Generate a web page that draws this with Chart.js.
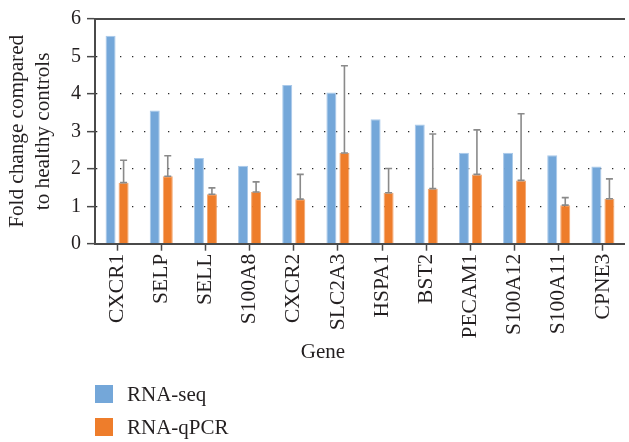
<!DOCTYPE html>
<html>
<head>
<meta charset="utf-8">
<script src="https://cdn.jsdelivr.net/npm/chart.js@4/dist/chart.umd.min.js"></script>
<style>
  html, body { margin: 0; padding: 0; background: #fff; overflow: hidden; }
  #wrap { position: relative; width: 629px; height: 442px; overflow: hidden; }
  #chart { position: absolute; left: 0; top: 0; }
  #legend { position: absolute; left: 95px; top: 385px; font-family: "Liberation Serif", "DejaVu Serif", serif; font-size: 21px; color: #231f20; }
  .item { display: flex; align-items: center; height: 18px; margin-bottom: 15px; }
  .box { width: 18px; height: 18px; margin-right: 14px; flex: none; }
</style>
</head>
<body>
<div id="wrap">
  <canvas id="chart" width="632" height="442"></canvas>
  <div id="legend"></div>
</div>
<script>
// Genes on the x axis
const genes = ['CXCR1', 'SELP', 'SELL', 'S100A8', 'CXCR2', 'SLC2A3', 'HSPA1', 'BST2', 'PECAM1', 'S100A12', 'S100A11', 'CPNE3'];
// Fold change from RNA-seq
const rnaSeq = [5.55, 3.56, 2.29, 2.08, 4.24, 4.04, 3.32, 3.18, 2.43, 2.43, 2.36, 2.06];
// Fold change from RNA-qPCR (mean) and its error (upper bar length)
const rnaQpcr = [1.63, 1.80, 1.32, 1.38, 1.19, 2.42, 1.36, 1.47, 1.85, 1.69, 1.03, 1.20];
const rnaQpcrErr = [0.60, 0.55, 0.17, 0.27, 0.66, 2.33, 0.65, 1.46, 1.19, 1.78, 0.20, 0.53];
// y axis tick values
const yTicks = [0, 1, 2, 3, 4, 5, 6];
const xTitle = 'Gene';

const SERIF = '"Liberation Serif", "DejaVu Serif", serif';
const INK = '#231f20';
const AXIS = '#4a4a4a';

// Upper error bars on the qPCR series
const errorBars = {
  id: 'errorBars',
  afterDatasetsDraw(chart) {
    const meta = chart.getDatasetMeta(1);
    const y = chart.scales.y;
    const ctx = chart.ctx;
    ctx.save();
    ctx.strokeStyle = '#8a8a8a';
    ctx.lineWidth = 1.6;
    meta.data.forEach((bar, i) => {
      const x = bar.x;
      const yMean = y.getPixelForValue(rnaQpcr[i]);
      const yTop = y.getPixelForValue(rnaQpcr[i] + rnaQpcrErr[i]);
      ctx.beginPath();
      ctx.moveTo(x, yMean);
      ctx.lineTo(x, yTop);
      ctx.moveTo(x - 3.5, yTop);
      ctx.lineTo(x + 3.5, yTop);
      ctx.moveTo(x - 3.5, yMean);
      ctx.lineTo(x + 3.5, yMean);
      ctx.stroke();
    });
    ctx.restore();
  }
};

// x axis title, set a little left of the plot centre
const xAxisTitle = {
  id: 'xAxisTitle',
  afterDraw(chart) {
    const ctx = chart.ctx;
    const area = chart.chartArea;
    ctx.save();
    ctx.fillStyle = INK;
    ctx.font = '21px ' + SERIF;
    ctx.textAlign = 'center';
    ctx.textBaseline = 'middle';
    ctx.fillText(xTitle, (area.left + area.right) / 2 - 37, 352);
    ctx.restore();
  }
};

const chart = new Chart(document.getElementById('chart'), {
  type: 'bar',
  data: {
    labels: genes,
    datasets: [
      {
        label: 'RNA-seq',
        data: rnaSeq,
        backgroundColor: '#74a7d9',
        borderColor: '#a9c9ea',
        borderWidth: { top: 1, left: 1, right: 1, bottom: 0 },
        categoryPercentage: 0.59,
        barPercentage: 0.77
      },
      {
        label: 'RNA-qPCR',
        data: rnaQpcr,
        backgroundColor: '#ee7d2b',
        borderColor: '#f3a66e',
        borderWidth: { top: 1, left: 1, right: 1, bottom: 0 },
        categoryPercentage: 0.59,
        barPercentage: 0.77
      }
    ]
  },
  options: {
    responsive: false,
    animation: false,
    devicePixelRatio: 1,
    layout: { padding: { top: 19, left: 0, right: 0, bottom: 77 } },
    plugins: {
      legend: { display: false },
      tooltip: { enabled: false }
    },
    scales: {
      x: {
        type: 'category',
        position: 'bottom',
        afterFit(scale) { scale.height = 121.3; },
        grid: {
          display: true,
          drawOnChartArea: false,
          drawTicks: true,
          offset: false,
          tickLength: 7,
          tickColor: AXIS,
          tickWidth: 1.5
        },
        border: { display: true, color: AXIS, width: 2 },
        ticks: {
          autoSkip: false,
          maxRotation: 90,
          minRotation: 90,
          padding: 3,
          color: INK,
          font: { family: SERIF, size: 21.5 }
        },
        title: { display: false }
      },
      x2: {
        type: 'category',
        position: 'top',
        afterFit(scale) { scale.height = 0; },
        grid: { display: false },
        ticks: { display: false },
        border: { display: true, color: AXIS, width: 2 }
      },
      y: {
        min: 0,
        max: 6,
        afterFit(scale) { scale.width = 95; },
        afterBuildTicks(scale) { scale.ticks = yTicks.map(v => ({ value: v })); },
        grid: {
          color: ctx => (ctx.tick && ctx.tick.value > 0 && ctx.tick.value < 6) ? '#2a2a2a' : 'rgba(0,0,0,0)',
          lineWidth: 1.3,
          drawTicks: true,
          tickLength: 8,
          tickColor: AXIS,
          tickWidth: 1.5
        },
        border: { display: true, color: AXIS, width: 2, dash: [1.3, 10.7] },
        ticks: {
          padding: 6,
          color: INK,
          font: { family: SERIF, size: 20 }
        },
        title: {
          display: true,
          text: ['Fold change compared', 'to healthy controls'],
          color: INK,
          font: { family: SERIF, size: 21.2, lineHeight: 1.23 },
          padding: { top: 4, bottom: 0 }
        }
      }
    }
  },
  plugins: [errorBars, xAxisTitle]
});

// Stacked legend below the plot, built from the chart's own legend items
const legendEl = document.getElementById('legend');
chart.options.plugins.legend.labels.generateLabels(chart).forEach(item => {
  const row = document.createElement('div');
  row.className = 'item';
  const box = document.createElement('span');
  box.className = 'box';
  box.style.background = item.fillStyle;
  const txt = document.createElement('span');
  txt.textContent = item.text;
  row.appendChild(box);
  row.appendChild(txt);
  legendEl.appendChild(row);
});
</script>
</body>
</html>
